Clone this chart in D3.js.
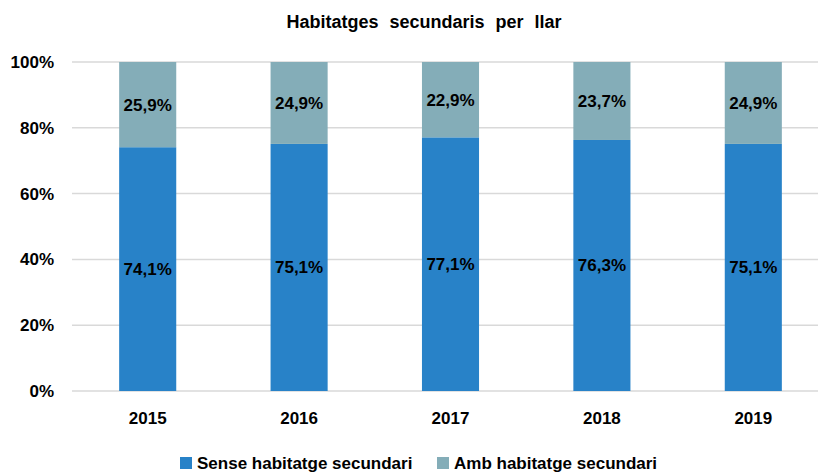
<!DOCTYPE html>
<html>
<head>
<meta charset="utf-8">
<script src="https://cdn.jsdelivr.net/npm/d3@7"></script>
<style>
  body { margin: 0; background: #fff; }
  svg text { font-family: "Liberation Sans", Arial, sans-serif; font-weight: bold; fill: #000; }
</style>
</head>
<body>
<svg id="chart" width="818" height="474"></svg>
<script>
// chart values
const years = ["2015", "2016", "2017", "2018", "2019"];
const sense = [74.1, 75.1, 77.1, 76.3, 75.1];
const amb = [25.9, 24.9, 22.9, 23.7, 24.9];
const yTicks = [0, 20, 40, 60, 80, 100];
const seriesNames = ["Sense habitatge secundari", "Amb habitatge secundari"];
const colors = ["#2882c8", "#84adb8"];

const W = 818, H = 474;
const margin = {top: 62, right: -11, bottom: 83, left: 72};

const svg = d3.select("#chart");

const x = d3.scaleBand()
  .domain(years)
  .range([margin.left, W - margin.right])
  .paddingInner(0.623)
  .paddingOuter(0.3115);

const y = d3.scaleLinear()
  .domain([0, 100])
  .range([H - margin.bottom, margin.top]);

// title
svg.append("text")
  .attr("x", 424)
  .attr("y", 28)
  .attr("text-anchor", "middle")
  .style("font-size", "18px")
  .style("word-spacing", "6px")
  .text("Habitatges secundaris per llar");

// gridlines
svg.append("g")
  .selectAll("line")
  .data(yTicks)
  .enter().append("line")
    .attr("x1", margin.left)
    .attr("x2", W)
    .attr("y1", d => y(d))
    .attr("y2", d => y(d))
    .attr("stroke", "#d9d9d9")
    .attr("stroke-width", 1.5);

// y labels
svg.append("g")
  .selectAll("text")
  .data(yTicks)
  .enter().append("text")
    .attr("x", 54)
    .attr("y", d => y(d))
    .attr("dy", "0.35em")
    .attr("text-anchor", "end")
    .style("font-size", "17px")
    .text(d => d + "%");

// stacked data
const rows = years.map((yr, i) => ({year: yr, sense: sense[i], amb: amb[i]}));
const stack = d3.stack().keys(["sense", "amb"])(rows);

const layer = svg.append("g")
  .selectAll("g")
  .data(stack)
  .enter().append("g")
    .attr("fill", (d, i) => colors[i]);

layer.selectAll("rect")
  .data(d => d)
  .enter().append("rect")
    .attr("x", d => x(d.data.year))
    .attr("width", x.bandwidth())
    .attr("y", d => y(d[1]))
    .attr("height", d => y(d[0]) - y(d[1]));

// value labels
layer.selectAll("text")
  .data(d => d)
  .enter().append("text")
    .attr("x", d => x(d.data.year) + x.bandwidth() / 2)
    .attr("y", d => (y(d[0]) + y(d[1])) / 2)
    .attr("dy", "0.35em")
    .attr("text-anchor", "middle")
    .style("font-size", "17px")
    .text(d => d3.format(".1f")(d[1] - d[0]).replace(".", ",") + "%");

// x labels
svg.append("g")
  .selectAll("text")
  .data(years)
  .enter().append("text")
    .attr("x", d => x(d) + x.bandwidth() / 2)
    .attr("y", 424)
    .attr("text-anchor", "middle")
    .style("font-size", "17px")
    .text(d => d);

// legend
const legendX = [180, 437];
const legend = svg.append("g")
  .selectAll("g")
  .data(seriesNames)
  .enter().append("g")
    .attr("transform", (d, i) => `translate(${legendX[i]},457)`);

legend.append("rect")
  .attr("width", 12)
  .attr("height", 12)
  .attr("fill", (d, i) => colors[i]);

legend.append("text")
  .attr("x", 17)
  .attr("y", 12)
  .style("font-size", "17px")
  .text(d => d);
</script>
</body>
</html>
